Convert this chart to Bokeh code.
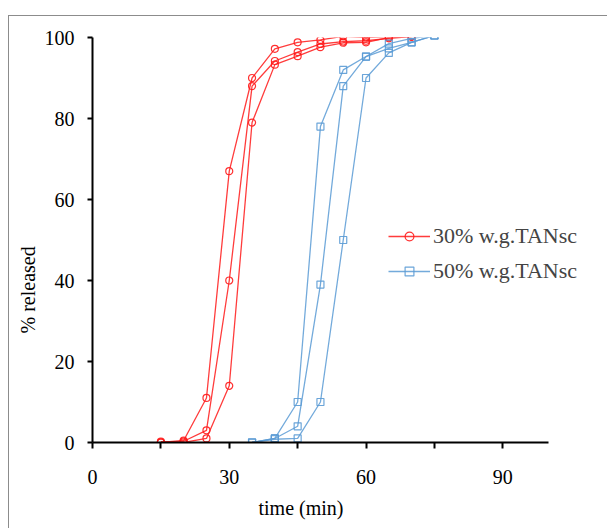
from bokeh.plotting import figure
from bokeh.models import (Range1d, FixedTicker, Legend, LegendItem, Title)
from bokeh.embed import file_html
from bokeh.resources import INLINE

# ---- data ----
time_30 = [15, 20, 25, 30, 35, 40, 45, 50, 55, 60, 65, 70]
rel_30_a = [0.0, 0.5, 11.0, 67.0, 90.0, 97.2, 98.8, 99.4, 100.3, 100.0, 100.2, 100.3]
rel_30_b = [0.0, 0.3, 3.0, 40.0, 88.0, 94.2, 96.4, 98.4, 99.0, 99.2, 99.8, 100.2]
rel_30_c = [0.2, 0.0, 1.0, 14.0, 79.0, 93.3, 95.4, 97.6, 98.7, 98.8, 100.0, 100.2]

time_50 = [35, 40, 45, 50, 55, 60, 65, 70, 75]
rel_50_a = [0.0, 1.0, 10.0, 78.0, 92.0, 95.3, 98.5, 99.8, 100.5]
rel_50_b = [0.0, 1.0, 4.0, 39.0, 88.0, 95.3, 97.3, 98.8, 100.5]
rel_50_c = [0.0, 0.8, 1.0, 10.0, 50.0, 90.0, 96.2, 98.8, 100.5]

x_major = [0, 30, 60, 90]
x_minor = [15, 45, 75]
y_ticks = [0, 20, 40, 60, 80, 100]
label_30 = "30% w.g.TANsc"
label_50 = "50% w.g.TANsc"
x_title = "time (min)"
y_title = "% released"

RED = "#FF1A1A"
BLUE = "#5B9BD5"
FONT = "Liberation Serif"

# layout geometry (pixels)
W, H = 599, 513
LEFT, TOP, BOTTOM = 83, 21, 87
AXIS_PX = 455            # pixel length of the 0..100 x axis
frame_w = W - 1 - LEFT
x_end = 100 * frame_w / AXIS_PX

p = figure(width=W, height=H, output_backend="svg", toolbar_location=None,
           x_range=Range1d(0, x_end), y_range=Range1d(0, 100),
           min_border_left=LEFT, min_border_right=0, min_border_top=TOP,
           min_border_bottom=BOTTOM)
p.margin = (15, 0, 0, 8)
p.styles = {"border-left": "1px solid #8c8c8c", "border-top": "1px solid #8c8c8c"}
p.outline_line_color = None
p.xgrid.visible = False
p.ygrid.visible = False
p.background_fill_color = "white"
p.border_fill_color = "white"

for ax in (p.xaxis[0], p.yaxis[0]):
    ax.axis_line_color = "black"
    ax.axis_line_width = 2
    ax.major_tick_line_color = "black"
    ax.major_tick_line_width = 2
    ax.minor_tick_line_color = "black"
    ax.minor_tick_line_width = 2
    ax.major_tick_in = 0
    ax.minor_tick_in = 0
    ax.major_label_text_font = FONT
    ax.major_label_text_font_size = "20px"
    ax.major_label_text_color = "black"

p.xaxis.bounds = (0, 100)
p.xaxis.ticker = FixedTicker(ticks=x_major, minor_ticks=x_minor)
p.xaxis.major_tick_out = 6
p.xaxis.minor_tick_out = 6
p.xaxis.major_label_standoff = 21
p.yaxis.ticker = FixedTicker(ticks=y_ticks, minor_ticks=[])
p.yaxis.major_tick_out = 5
p.yaxis.minor_tick_out = 0
p.yaxis.major_label_standoff = 13

items = []
for times, series, color, marker, lab in (
        (time_30, (rel_30_a, rel_30_b, rel_30_c), RED, "circle", label_30),
        (time_50, (rel_50_a, rel_50_b, rel_50_c), BLUE, "square", label_50)):
    rends = []
    for vals in series:
        l = p.line(times, vals, line_color=color, line_width=1.3, line_alpha=0.85)
        s = p.scatter(times, vals, marker=marker, size=7, line_color=color,
                      line_width=1.2, fill_color=None, line_alpha=0.9)
        if not rends:
            rends = [l, s]
    items.append(LegendItem(label=lab, renderers=rends))

legend = Legend(items=items, location=(296, 158), orientation="vertical",
                border_line_color=None, background_fill_alpha=0,
                label_text_font=FONT, label_text_font_size="22px",
                glyph_width=42, glyph_height=22, label_height=22,
                label_standoff=3, spacing=9, padding=0, margin=0)
p.add_layout(legend, "center")

xt = Title(text=x_title, align="left", offset=166, standoff=16,
           text_font=FONT, text_font_size="20px", text_font_style="normal",
           text_color="black")
p.add_layout(xt, "below")
yt = Title(text=y_title, align="left", offset=109, standoff=6,
           text_font=FONT, text_font_size="20px", text_font_style="normal",
           text_color="black")
p.add_layout(yt, "left")

open("out.html", "w").write(file_html(p, INLINE))
